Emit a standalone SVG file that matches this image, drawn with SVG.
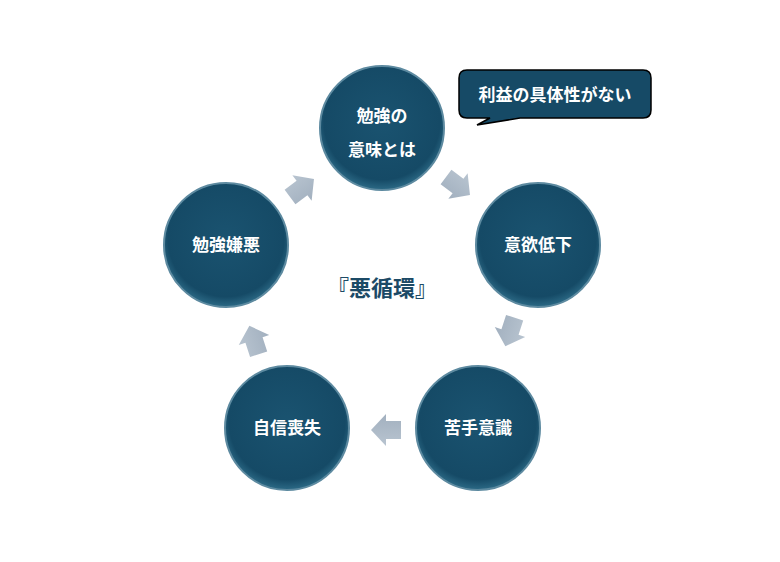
<svg xmlns="http://www.w3.org/2000/svg" width="780" height="562" viewBox="0 0 780 562">
<style>
.n{stroke:#5d8aa0;stroke-width:2}
.t{fill:#fff;font-family:"Noto Sans CJK JP",sans-serif;font-weight:bold;font-size:17px;text-anchor:middle}
.a{fill:url(#ag)}
</style>
<defs>
<radialGradient id="cg" cx="50%" cy="45%" r="55%">
<stop offset="0" stop-color="#1a5370"/><stop offset="0.85" stop-color="#154a66"/><stop offset="1" stop-color="#2c6a86"/>
</radialGradient>
<linearGradient id="ag" x1="0" y1="0" x2="0" y2="1">
<stop offset="0" stop-color="#b8c4d0"/><stop offset="1" stop-color="#a2b0bf"/>
</linearGradient>
<path id="arr" d="M-15,-9 H0 V-16 L15,0 L0,16 V9 H-15 Z"/>
</defs>
<rect width="780" height="562" fill="#fff"/>
<g id="connectors">
<use href="#arr" class="a" transform="translate(302,188) rotate(-37)"/>
<use href="#arr" class="a" transform="translate(458,186) rotate(37)"/>
<use href="#arr" class="a" transform="translate(510,332) rotate(108)"/>
<use href="#arr" class="a" transform="translate(386,430) rotate(180)"/>
<use href="#arr" class="a" transform="translate(254,340) rotate(-108)"/>
</g>
<g id="n1"><circle class="n" cx="382" cy="128" r="62" fill="url(#cg)"/><text class="t" x="382" y="122">勉強の</text><text class="t" x="382" y="156">意味とは</text></g>
<g id="n2"><circle class="n" cx="538" cy="245" r="62" fill="url(#cg)"/><text class="t" x="538" y="251">意欲低下</text></g>
<g id="n3"><circle class="n" cx="478" cy="428" r="62" fill="url(#cg)"/><text class="t" x="478" y="434">苦手意識</text></g>
<g id="n4"><circle class="n" cx="287" cy="428" r="62" fill="url(#cg)"/><text class="t" x="287" y="434">自信喪失</text></g>
<g id="n5"><circle class="n" cx="226" cy="245" r="62" fill="url(#cg)"/><text class="t" x="226" y="251">勉強嫌悪</text></g>
<g id="center"><text x="382" y="296" style="fill:#1c4a66;font-family:'Noto Sans CJK JP',sans-serif;font-weight:bold;font-size:22px;text-anchor:middle">『悪循環』</text></g>
<g id="callout"><path d="M467,70 H643 Q651,70 651,78 V110 Q651,118 643,118 H520 L477,125 L490,118 H467 Q459,118 459,110 V78 Q459,70 467,70 Z" fill="#164a66" stroke="#000" stroke-width="1.5"/><text class="t" x="555" y="101">利益の具体性がない</text></g>
</svg>
